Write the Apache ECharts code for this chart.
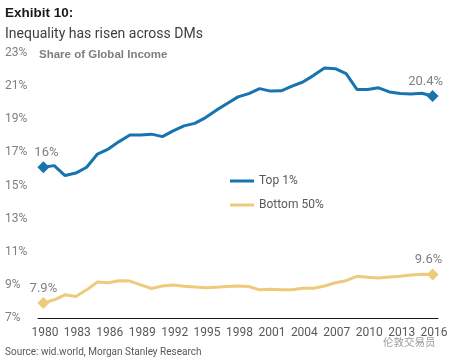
<!DOCTYPE html>
<html>
<head>
<meta charset="utf-8">
<script src="https://cdn.jsdelivr.net/npm/echarts@6/dist/echarts.min.js"></script>
<style>
html,body{margin:0;padding:0;background:#fff;}
#chart{width:452px;height:362px;}
</style>
</head>
<body>
<div id="chart"></div>
<script>
var years = ['1980','1981','1982','1983','1984','1985','1986','1987','1988','1989',
  '1990','1991','1992','1993','1994','1995','1996','1997','1998','1999',
  '2000','2001','2002','2003','2004','2005','2006','2007','2008','2009',
  '2010','2011','2012','2013','2014','2015','2016'];
var top1 = [16.1,16.2,15.6,15.75,16.1,16.9,17.2,17.65,18.05,18.05,
  18.1,17.95,18.3,18.6,18.75,19.1,19.55,19.95,20.35,20.55,
  20.85,20.7,20.72,21.0,21.25,21.65,22.1,22.05,21.75,20.8,
  20.8,20.9,20.65,20.55,20.53,20.57,20.4];
var bottom50 = [7.9,8.1,8.4,8.3,8.7,9.17,9.13,9.25,9.23,9.0,
  8.78,8.93,8.99,8.92,8.87,8.82,8.86,8.9,8.93,8.9,
  8.7,8.74,8.7,8.7,8.79,8.8,8.93,9.13,9.25,9.52,
  9.46,9.42,9.48,9.52,9.6,9.64,9.62];
var endLabelsTop = ['16%','20.4%'];
var endLabelsBottom = ['7.9%','9.6%'];
var yTicks = ['7%','9%','11%','13%','15%','17%','19%','21%','23%'];

var FONT = 'Roboto';
var GRAY = '#7f7f7f';

function buildData(vals, labels, offsets) {
  var last = vals.length - 1;
  return vals.map(function (v, i) {
    if (i === 0 || i === last) {
      var k = i === 0 ? 0 : 1;
      return {
        value: v,
        symbol: 'diamond',
        symbolSize: 12,
        label: {
          show: true,
          position: 'top',
          distance: 2,
          offset: offsets[k],
          formatter: labels[k],
          color: GRAY,
          fontFamily: FONT,
          fontSize: 13
        }
      };
    }
    return { value: v, symbol: 'none' };
  });
}

var chart = echarts.init(document.getElementById('chart'), null, {renderer: 'canvas'});
chart.setOption({
  animation: false,
  backgroundColor: '#fff',
  title: [
    {text: 'Exhibit 10:', left: 5, top: 6, padding: 0,
      textStyle: {fontFamily: 'Liberation Sans', fontWeight: 'bold', fontSize: 13.5, color: '#1a1a1a'}},
    {text: 'Inequality has risen across DMs', left: 5, top: 27, padding: 0,
      textStyle: {fontFamily: FONT, fontWeight: 'normal', fontSize: 14, color: '#404040'}},
    {text: 'Share of Global Income', left: 39, top: 49, padding: 0,
      textStyle: {fontFamily: 'Liberation Sans', fontWeight: 'bold', fontSize: 11.5, color: GRAY}},
    {text: 'Source: wid.world, Morgan Stanley Research', left: 5, top: 347, padding: 0,
      textStyle: {fontFamily: FONT, fontWeight: 'normal', fontSize: 10, color: '#595959'}},
    {text: '伦敦交易员', left: 383, top: 337, padding: 0,
      textStyle: {fontFamily: 'Noto Sans CJK SC', fontWeight: 'normal', fontSize: 10.5, color: '#9a9a9a'}}
  ],
  legend: {
    left: 230, top: 174, orient: 'vertical', padding: 0,
    itemWidth: 24, itemHeight: 3, itemGap: 10, icon: 'rect',
    textStyle: {fontFamily: FONT, fontSize: 12, color: '#595959', lineHeight: 14},
    data: ['Top 1%', 'Bottom 50%']
  },
  grid: {left: 38, right: 14, top: 53, bottom: 44, containLabel: false},
  xAxis: {
    type: 'category', data: years, boundaryGap: true,
    axisLine: {lineStyle: {color: '#1a1a1a', width: 1}},
    axisTick: {interval: 2, length: 5, lineStyle: {color: '#1a1a1a'}},
    axisLabel: {interval: 2, margin: 9, padding: [0, 0, 0, 3], fontFamily: FONT, fontSize: 12, color: '#595959'},
    splitLine: {show: false}
  },
  yAxis: {
    type: 'value', min: 7, max: 23, interval: 1,
    axisLine: {show: false}, axisTick: {show: false}, splitLine: {show: false},
    axisLabel: {
      align: 'left', margin: 33, fontFamily: FONT, fontSize: 12, color: GRAY,
      formatter: function (v) { var i = yTicks.indexOf(v + '%'); return i >= 0 ? yTicks[i] : ''; }
    }
  },
  series: [
    {name: 'Top 1%', type: 'line', showAllSymbol: true,
      data: buildData(top1, endLabelsTop, [[3, 0], [-7, 0]]),
      itemStyle: {color: '#1874b0'}, lineStyle: {color: '#1874b0', width: 3}},
    {name: 'Bottom 50%', type: 'line', showAllSymbol: true,
      data: buildData(bottom50, endLabelsBottom, [[0, 0], [-4, 0]]),
      itemStyle: {color: '#eecb7c'}, lineStyle: {color: '#eecb7c', width: 3}}
  ]
});
</script>
</body>
</html>
